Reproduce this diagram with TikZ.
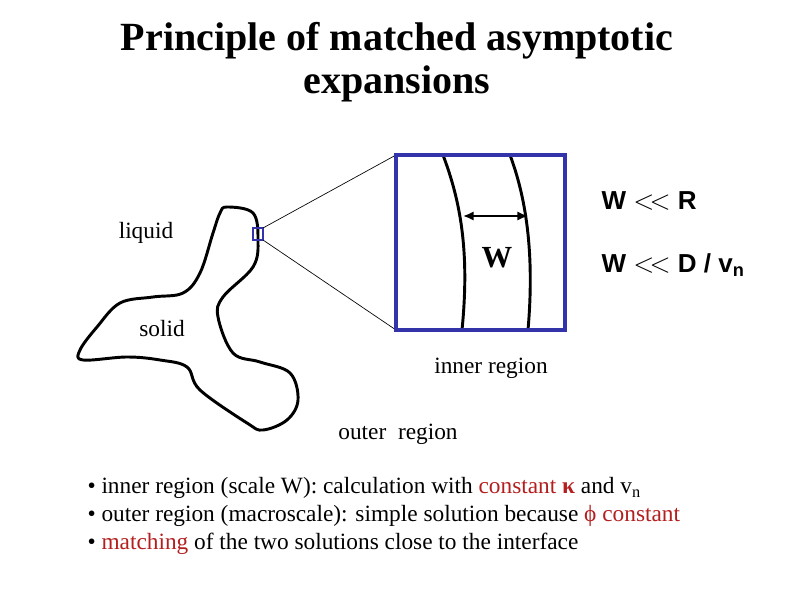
\documentclass[tikz,border=0pt]{standalone}
\usepackage{fontspec}
\setmainfont{Liberation Serif}
\setsansfont{Liberation Sans}
\usetikzlibrary{arrows.meta}
\definecolor{boxblue}{RGB}{51,51,170}
\definecolor{darkred}{RGB}{180,30,30}
\tikzset{every picture/.style={line width=0.75pt}}

\begin{document}
\begin{tikzpicture}[x=0.75pt,y=0.75pt,yscale=-1,xscale=1,
  txt/.style={anchor=west,inner sep=0.75pt,font=\fontsize{17.5}{21}\selectfont},
  lbl/.style={font=\fontsize{17.5}{21}\selectfont},
  ratio/.style={anchor=west,inner sep=0.75pt,font=\sffamily\bfseries\fontsize{19.5}{24}\selectfont},
  curve/.style={line width=2.2pt,black}]
\useasboundingbox (0,0) rectangle (794,595);

% title
\node (title) at (397,62) [align=center,font=\fontsize{30}{32}\bfseries\selectfont] {Principle of matched asymptotic\\expansions};

% solid blob
\draw [curve,line join=round] plot [smooth cycle,tension=0.6] coordinates {
 (227,207) (253,213) (258,240) (253,267) (223,297) (218,317) (233,353)
 (260,362) (290,373) (298,400) (287,420) (263,430) (247,423) (200,390)
 (187,367) (160,360) (127,357) (83,360) (80,350) (97,327) (120,303)
 (153,297) (183,293) (200,273) (213,233) (220,213)};

% zoom square and box
\draw [boxblue,line width=2pt] (253,228) rectangle (263,240);
\coordinate (sq1) at (263,228);
\coordinate (sq2) at (263,240);
\coordinate (bx1) at (396,155);
\coordinate (bx2) at (396,330);
\draw [line width=0.5pt] (sq1) -- (bx1);
\draw [line width=0.5pt] (sq2) -- (bx2);
\draw [curve] (443,155) .. controls (460,200) and (470,250) .. (462,330);
\draw [curve] (510,155) .. controls (525,195) and (535,250) .. (528,330);
\draw [boxblue,line width=2.5pt] (bx1) rectangle (565,330);

% width arrow
\coordinate (wl) at (463,216);
\coordinate (wr) at (528,216);
\draw [line width=1.5pt,{Latex[length=8pt,width=7pt]}-{Latex[length=8pt,width=7pt]}] (wl) -- (wr);
\node (w) at (497,258) [font=\fontsize{23}{27}\bfseries\selectfont] {W};

% labels
\node (liquid) at (146,233) [lbl] {liquid};
\node (solid) at (162,329) [lbl] {solid};
\node (inner) at (491,368) [lbl] {inner region};
\node (outer) at (398,434) [lbl] {outer\ \ region};
\node (wr1) at (600,201) [ratio] {W $<\!<$ R};
\node (wr2) at (600,265) [ratio] {W $<\!<$ D / v\textsubscript{n}};

% bullets
\node (b1) at (86,488) [txt] {• inner region (scale W): calculation with \textcolor{darkred}{constant \textbf{κ}} and v\textsubscript{n}};
\node (b2) at (86,516) [txt] {• outer region (macroscale): simple solution because \textcolor{darkred}{ϕ constant}};
\node (b3) at (86,544) [txt] {• \textcolor{darkred}{matching} of the two solutions close to the interface};

\end{tikzpicture}
\end{document}
